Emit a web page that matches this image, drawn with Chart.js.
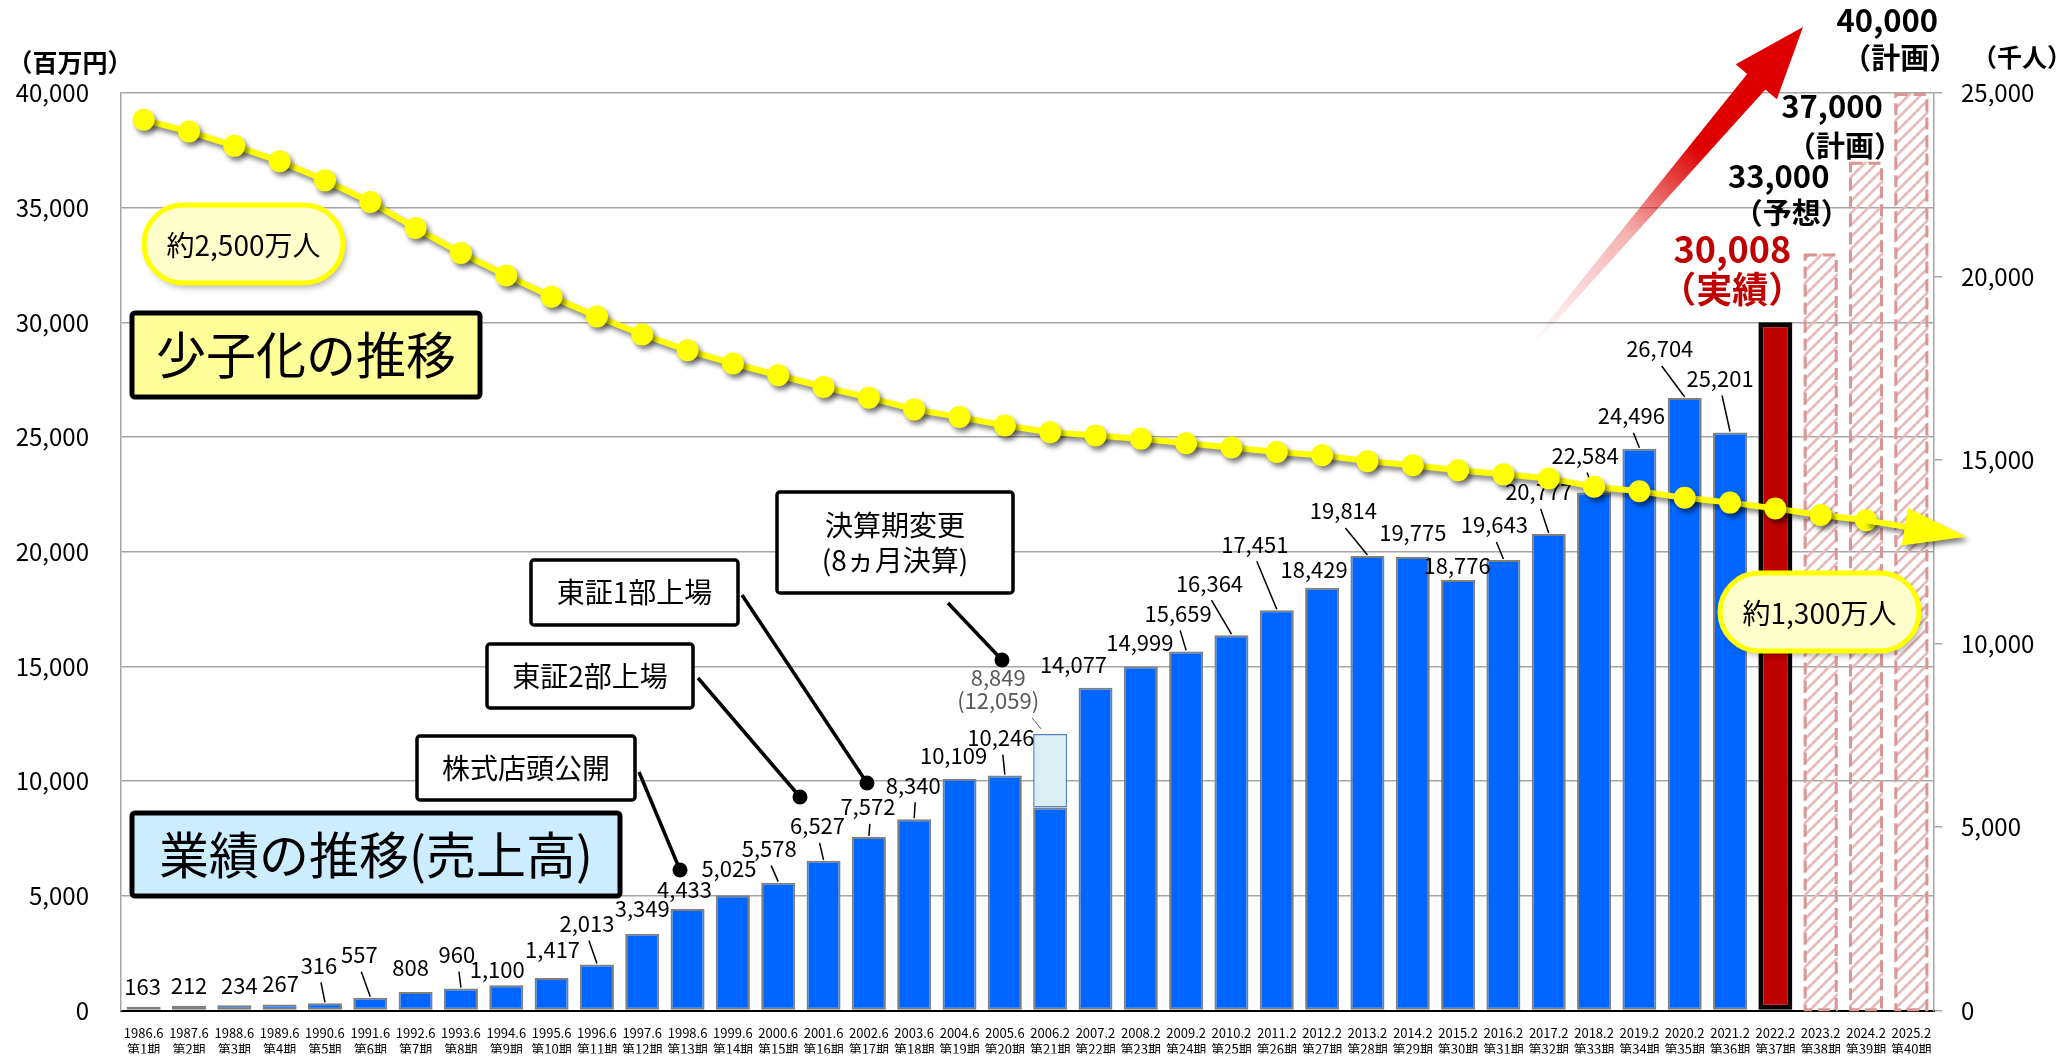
<!DOCTYPE html>
<html lang="ja">
<head>
<meta charset="UTF-8">
<title>業績の推移と少子化の推移</title>
<script src="https://cdn.jsdelivr.net/npm/chart.js"></script>
<style>
  html, body { margin: 0; padding: 0; background: #ffffff; }
  #wrap { width: 2067px; height: 1057px; }
</style>
</head>
<body>
<div id="wrap"><canvas id="chart" width="2067" height="1057"></canvas></div>
<script>
  // 決算期
  const periods = ['1986.6','1987.6','1988.6','1989.6','1990.6','1991.6','1992.6','1993.6','1994.6','1995.6',
    '1996.6','1997.6','1998.6','1999.6','2000.6','2001.6','2002.6','2003.6','2004.6','2005.6',
    '2006.2','2007.2','2008.2','2009.2','2010.2','2011.2','2012.2','2013.2','2014.2','2015.2',
    '2016.2','2017.2','2018.2','2019.2','2020.2','2021.2','2022.2','2023.2','2024.2','2025.2'];
  const terms = ['第1期','第2期','第3期','第4期','第5期','第6期','第7期','第8期','第9期','第10期',
    '第11期','第12期','第13期','第14期','第15期','第16期','第17期','第18期','第19期','第20期',
    '第21期','第22期','第23期','第24期','第25期','第26期','第27期','第28期','第29期','第30期',
    '第31期','第32期','第33期','第34期','第35期','第36期','第37期','第38期','第39期','第40期'];

  // 売上高（百万円）
  const sales = [163, 212, 234, 267, 316, 557, 808, 960, 1100, 1417,
    2013, 3349, 4433, 5025, 5578, 6527, 7572, 8340, 10109, 10246,
    8849, 14077, 14999, 15659, 16364, 17451, 18429, 19814, 19775, 18776,
    19643, 20777, 22584, 24496, 26704, 25201, 30008, null, null, null];
  // 第21期：8ヵ月決算 と 12ヵ月換算
  const eightMonth = [8849, 12059];
  const eightMonthIndex = 20;
  // 予想・計画
  const plan = [null, null, null, null, null, null, null, null, null, null,
    null, null, null, null, null, null, null, null, null, null,
    null, null, null, null, null, null, null, null, null, null,
    null, null, null, null, null, null, null, 33000, 37000, 40000];
  const planNotes = ['（予想）', '（計画）', '（計画）'];
  const actualIndex = 36;

  // 年少人口（千人）
  const children = [24270, 23950, 23560, 23140, 22620, 22030, 21320, 20640, 20030, 19450,
    18910, 18420, 17990, 17630, 17310, 16990, 16700, 16380, 16170, 15940,
    15760, 15670, 15580, 15460, 15340, 15220, 15130, 14970, 14860, 14720,
    14610, 14500, 14270, 14150, 13970, 13840, 13680, 13500, 13360, null];

  // ラベル位置（棒の上端からのずれ, px）と引出線
  const labelDx = [-1, 0, 5, 1, -6, -11, -5, -4, -9, 1, -10, 0, -3, -4, -9, -6, -1, -1, -6, -4,
    0, -22, -1, -8, -22, -22, -8, -24, 0, -1, -9, -10, -9, -8, -25, -10];
  const labelDy = [-20, -20, -20, -21, -38, -43, -24, -34, -16, -28, -41, -25, -19, -27, -34, -35, -30, -34, -23, -38,
    0, -23, -24, -38, -52, -66, -18, -45, -24, -14, -35, -42, -37, -33, -49, -54];
  const leader = [0, 0, 0, 0, 1, 1, 0, 1, 0, 0, 1, 0, 0, 0, 1, 1, 1, 1, 0, 1,
    0, 0, 0, 1, 1, 1, 0, 1, 0, 0, 1, 1, 1, 1, 1, 1];

  const FONT = '"Noto Sans CJK JP", "Noto Sans", sans-serif';
  const fmt = v => v.toLocaleString('en-US');

  // 斜線パターン
  function makeHatch() {
    const c = document.createElement('canvas');
    c.width = 12; c.height = 12;
    const g = c.getContext('2d');
    g.strokeStyle = '#E8B7B6';
    g.lineWidth = 2.5;
    g.beginPath();
    g.moveTo(0, 12); g.lineTo(12, 0);
    g.moveTo(-3, 3); g.lineTo(3, -3);
    g.moveTo(9, 15); g.lineTo(15, 9);
    g.stroke();
    return g.createPattern(c, 'repeat');
  }

  function roundRectPath(ctx, x, y, w, h, r) {
    ctx.beginPath();
    ctx.moveTo(x + r, y);
    ctx.lineTo(x + w - r, y);
    ctx.arcTo(x + w, y, x + w, y + r, r);
    ctx.lineTo(x + w, y + h - r);
    ctx.arcTo(x + w, y + h, x + w - r, y + h, r);
    ctx.lineTo(x + r, y + h);
    ctx.arcTo(x, y + h, x, y + h - r, r);
    ctx.lineTo(x, y + r);
    ctx.arcTo(x, y, x + r, y, r);
    ctx.closePath();
  }

  function drawPlanOutlines(chart) {
    const ctx = chart.ctx;
    const meta = chart.getDatasetMeta(2);
    ctx.save();
    ctx.strokeStyle = '#DA9694';
    ctx.lineWidth = 3;
    ctx.setLineDash([12, 6]);
    meta.data.forEach((el, i) => {
      if (plan[i] == null) return;
      const p = el.getProps(['x', 'y', 'base', 'width'], true);
      ctx.strokeRect(p.x - p.width / 2 + 1.5, p.y + 1.5, p.width - 3, p.base - p.y - 1.5);
    });
    ctx.restore();
  }

  function drawBarLabels(chart) {
    const ctx = chart.ctx;
    const meta = chart.getDatasetMeta(0);
    ctx.save();
    ctx.textAlign = 'center';
    ctx.textBaseline = 'middle';
    ctx.strokeStyle = '#000';
    ctx.lineWidth = 1.5;
    for (let i = 0; i < actualIndex; i++) {
      if (i === eightMonthIndex) continue;
      const el = meta.data[i];
      const lx = el.x + labelDx[i], ly = el.y + labelDy[i];
      ctx.fillStyle = '#000';
      ctx.font = '22px ' + FONT;
      ctx.fillText(fmt(sales[i]), lx, ly);
      if (leader[i]) {
        ctx.beginPath();
        ctx.moveTo(lx + 2, ly + 17);
        ctx.lineTo(el.x, el.y - 1);
        ctx.stroke();
      }
    }
    // 第21期（8ヵ月決算）
    const adj = chart.getDatasetMeta(1).data[eightMonthIndex];
    const ax = adj.x - 52, ay = adj.y - 56;
    ctx.fillStyle = '#595959';
    ctx.font = '22px ' + FONT;
    ctx.fillText(fmt(eightMonth[0]), ax, ay);
    ctx.fillText('(' + fmt(eightMonth[1]) + ')', ax, ay + 23);
    ctx.strokeStyle = '#595959';
    ctx.lineWidth = 1;
    ctx.beginPath();
    ctx.moveTo(adj.x - 18, adj.y - 16);
    ctx.lineTo(adj.x - 9, adj.y - 5);
    ctx.stroke();
    ctx.restore();
  }

  function drawLineArrow(chart) {
    const ctx = chart.ctx;
    const meta = chart.getDatasetMeta(3);
    const last = meta.data[38];
    const tipX = last.x + 100, tipY = last.y + 16.6;
    const dx = tipX - last.x, dy = tipY - last.y, L = Math.hypot(dx, dy);
    const ux = dx / L, uy = dy / L, nx = -uy, ny = ux;
    const bx = tipX - ux * 62, by = tipY - uy * 62;
    ctx.strokeStyle = '#FFFF00';
    ctx.lineWidth = 6;
    ctx.beginPath();
    ctx.moveTo(last.x, last.y);
    ctx.lineTo(bx + ux * 4, by + uy * 4);
    ctx.stroke();
    ctx.fillStyle = '#FFFF00';
    ctx.beginPath();
    ctx.moveTo(tipX, tipY);
    ctx.lineTo(bx + nx * 19, by + ny * 19);
    ctx.lineTo(bx - nx * 19, by - ny * 19);
    ctx.closePath();
    ctx.fill();
  }

  function drawRedArrow(ctx) {
    const T = { x: 1532, y: 345 }, P = { x: 1803, y: 27 };
    const dx = P.x - T.x, dy = P.y - T.y, L = Math.hypot(dx, dy);
    const ux = dx / L, uy = dy / L, nx = -uy, ny = ux;
    const bx = P.x - ux * 72, by = P.y - uy * 72;
    const g = ctx.createLinearGradient(T.x, T.y, P.x, P.y);
    g.addColorStop(0, 'rgba(222,0,0,0)');
    g.addColorStop(0.35, 'rgba(222,0,0,0.3)');
    g.addColorStop(0.62, 'rgba(222,0,0,1)');
    g.addColorStop(1, 'rgba(222,0,0,1)');
    ctx.save();
    ctx.fillStyle = g;
    ctx.beginPath();
    ctx.moveTo(T.x + nx * 2, T.y + ny * 2);
    ctx.lineTo(bx + nx * 12, by + ny * 12);
    ctx.lineTo(bx + nx * 27, by + ny * 27);
    ctx.lineTo(P.x, P.y);
    ctx.lineTo(bx - nx * 27, by - ny * 27);
    ctx.lineTo(bx - nx * 12, by - ny * 12);
    ctx.lineTo(T.x - nx * 2, T.y - ny * 2);
    ctx.closePath();
    ctx.fill();
    ctx.restore();
  }

  function drawBox(ctx, x, y, w, h, fill, lw, lines, font, lineGap) {
    ctx.save();
    roundRectPath(ctx, x, y, w, h, 3);
    ctx.fillStyle = fill;
    ctx.fill();
    ctx.lineWidth = lw;
    ctx.strokeStyle = '#000';
    ctx.stroke();
    ctx.fillStyle = '#000';
    ctx.font = font;
    ctx.textAlign = 'center';
    ctx.textBaseline = 'middle';
    const cy = y + h / 2 - (lines.length - 1) * lineGap / 2;
    lines.forEach((t, k) => ctx.fillText(t, x + w / 2, cy + k * lineGap));
    ctx.restore();
  }

  function drawPill(ctx, x, y, w, h, text) {
    ctx.save();
    roundRectPath(ctx, x, y, w, h, h / 2);
    ctx.shadowColor = 'rgba(0,0,0,0.35)';
    ctx.shadowBlur = 7;
    ctx.shadowOffsetX = 3;
    ctx.shadowOffsetY = 4;
    ctx.fillStyle = '#FFFFCC';
    ctx.fill();
    ctx.shadowColor = 'transparent';
    ctx.lineWidth = 5;
    ctx.strokeStyle = '#FFFF00';
    ctx.stroke();
    ctx.fillStyle = '#000';
    ctx.font = '28px ' + FONT;
    ctx.textAlign = 'center';
    ctx.textBaseline = 'middle';
    ctx.fillText(text, x + w / 2, y + h / 2 + 1);
    ctx.restore();
  }

  function callout(ctx, x1, y1, x2, y2) {
    ctx.save();
    ctx.strokeStyle = '#000';
    ctx.fillStyle = '#000';
    ctx.lineWidth = 3.5;
    ctx.beginPath();
    ctx.moveTo(x1, y1);
    ctx.lineTo(x2, y2);
    ctx.stroke();
    ctx.beginPath();
    ctx.arc(x2, y2, 7.5, 0, Math.PI * 2);
    ctx.fill();
    ctx.restore();
  }

  const annotations = {
    id: 'annotations',
    beforeDatasetDraw(chart, args) {
      if (args.meta.type !== 'line') return;
      drawPlanOutlines(chart);
      drawBarLabels(chart);
      const ctx = chart.ctx;
      ctx.save();
      ctx.shadowColor = 'rgba(0,0,0,0.5)';
      ctx.shadowBlur = 5;
      ctx.shadowOffsetX = 3;
      ctx.shadowOffsetY = 4;
    },
    afterDatasetDraw(chart, args) {
      if (args.meta.type !== 'line') return;
      drawLineArrow(chart);
      chart.ctx.restore();
    },
    afterDraw(chart) {
      const ctx = chart.ctx;

      // 単位
      ctx.save();
      ctx.fillStyle = '#000';
      ctx.font = 'bold 25px ' + FONT;
      ctx.textAlign = 'center';
      ctx.textBaseline = 'middle';
      ctx.fillText('（百万円）', 70, 62);
      ctx.fillText('（千人）', 2022, 57);
      ctx.restore();

      drawRedArrow(ctx);

      // 実績・予想・計画
      const actEl = chart.getDatasetMeta(0).data[actualIndex];
      ctx.save();
      ctx.textAlign = 'center';
      ctx.textBaseline = 'middle';
      ctx.fillStyle = '#C00000';
      ctx.font = 'bold 36px ' + FONT;
      ctx.fillText(fmt(sales[actualIndex]), actEl.x - 43, actEl.y - 73);
      ctx.fillText('（実績）', actEl.x - 43, actEl.y - 33);
      const planMeta = chart.getDatasetMeta(2);
      const offs = [[-42, -77, -41], [-34, -56, -16], [-24, -73, -35]];
      ctx.fillStyle = '#000';
      let k = 0;
      plan.forEach((v, i) => {
        if (v == null) return;
        const el = planMeta.data[i];
        const o = offs[k];
        ctx.font = 'bold 31px ' + FONT;
        ctx.fillText(fmt(v), el.x + o[0], el.y + o[1]);
        ctx.font = 'bold 29px ' + FONT;
        ctx.fillText(planNotes[k], el.x + o[0] + 13, el.y + o[2]);
        k++;
      });
      ctx.restore();

      // 見出しボックス
      drawBox(ctx, 132, 313, 348, 84, '#FFFF99', 5, ['少子化の推移'], '50px ' + FONT, 0);
      drawBox(ctx, 132, 813, 488, 83, '#CCECFF', 5, ['業績の推移(売上高)'], '50px ' + FONT, 0);

      // 引出しボックス
      callout(ctx, 948, 603, 1002, 660);
      callout(ctx, 742, 595, 867, 783);
      callout(ctx, 698, 678, 800, 797);
      callout(ctx, 639, 772, 680, 870);
      drawBox(ctx, 777, 492, 236, 101, '#FFFFFF', 3.5, ['決算期変更', '(8ヵ月決算)'], '28px ' + FONT, 35);
      drawBox(ctx, 531, 560, 207, 65, '#FFFFFF', 3.5, ['東証1部上場'], '28px ' + FONT, 0);
      drawBox(ctx, 487, 644, 206, 64, '#FFFFFF', 3.5, ['東証2部上場'], '28px ' + FONT, 0);
      drawBox(ctx, 417, 736, 218, 64, '#FFFFFF', 3.5, ['株式店頭公開'], '28px ' + FONT, 0);

      // 人口ラベル
      drawPill(ctx, 144, 205, 199, 78, '約2,500万人');
      drawPill(ctx, 1720, 573, 199, 78, '約1,300万人');
    }
  };

  const hatch = makeHatch();

  new Chart(document.getElementById('chart'), {
    type: 'bar',
    data: {
      labels: periods.map((p, i) => [p, terms[i]]),
      datasets: [
        {
          label: '売上高',
          data: sales,
          yAxisID: 'y',
          order: 1,
          grouped: false,
          backgroundColor: c => c.dataIndex === actualIndex ? '#C00000' : '#0066FF',
          borderColor: c => c.dataIndex === actualIndex ? '#000000' : '#7F7F7F',
          borderWidth: c => c.dataIndex === actualIndex ? 5 : 2,
          borderSkipped: false,
          categoryPercentage: 1,
          barPercentage: 0.75
        },
        {
          label: '12ヵ月換算',
          data: periods.map((p, i) => i === eightMonthIndex ? eightMonth : null),
          yAxisID: 'y',
          order: 1,
          grouped: false,
          backgroundColor: '#DAEEF3',
          borderColor: '#4F81BD',
          borderWidth: 1.5,
          borderSkipped: false,
          categoryPercentage: 1,
          barPercentage: 0.75
        },
        {
          label: '予想・計画',
          data: plan,
          yAxisID: 'y',
          order: 1,
          grouped: false,
          backgroundColor: hatch,
          borderWidth: 0,
          categoryPercentage: 1,
          barPercentage: 0.75
        },
        {
          type: 'line',
          label: '年少人口',
          data: children,
          yAxisID: 'y2',
          order: 0,
          borderColor: '#FFFF00',
          borderWidth: 6,
          pointRadius: 11,
          pointBackgroundColor: '#FFFF00',
          pointBorderWidth: 0,
          tension: 0,
          spanGaps: false
        }
      ]
    },
    options: {
      responsive: false,
      animation: false,
      events: [],
      layout: { padding: { top: 93, left: 0, right: 0, bottom: 0 } },
      plugins: { legend: { display: false }, tooltip: { enabled: false } },
      scales: {
        x: {
          offset: true,
          grid: { display: false },
          border: { color: '#000', width: 2 },
          ticks: {
            autoSkip: false,
            maxRotation: 0,
            padding: 7,
            color: '#000',
            font: { family: FONT, size: 13, lineHeight: 1.2 }
          },
          afterFit: s => { s.height = 43; }
        },
        y: {
          position: 'left',
          min: 0,
          max: 40000,
          grid: { color: '#A6A6A6', lineWidth: 1.5, drawTicks: false },
          border: { color: '#A6A6A6', width: 1.5 },
          ticks: {
            stepSize: 5000,
            padding: 32,
            color: '#000',
            font: { family: FONT, size: 24 },
            callback: v => fmt(v)
          },
          afterFit: s => { s.width = 121; }
        },
        y2: {
          position: 'right',
          min: 0,
          max: 25000,
          grid: { drawOnChartArea: false, color: '#A6A6A6', lineWidth: 1.5, tickLength: 8 },
          border: { color: '#A6A6A6', width: 1.5 },
          ticks: {
            stepSize: 5000,
            padding: 19,
            color: '#000',
            font: { family: FONT, size: 24 },
            callback: v => fmt(v)
          },
          afterFit: s => { s.width = 133; }
        }
      }
    },
    plugins: [annotations]
  });
</script>
</body>
</html>
